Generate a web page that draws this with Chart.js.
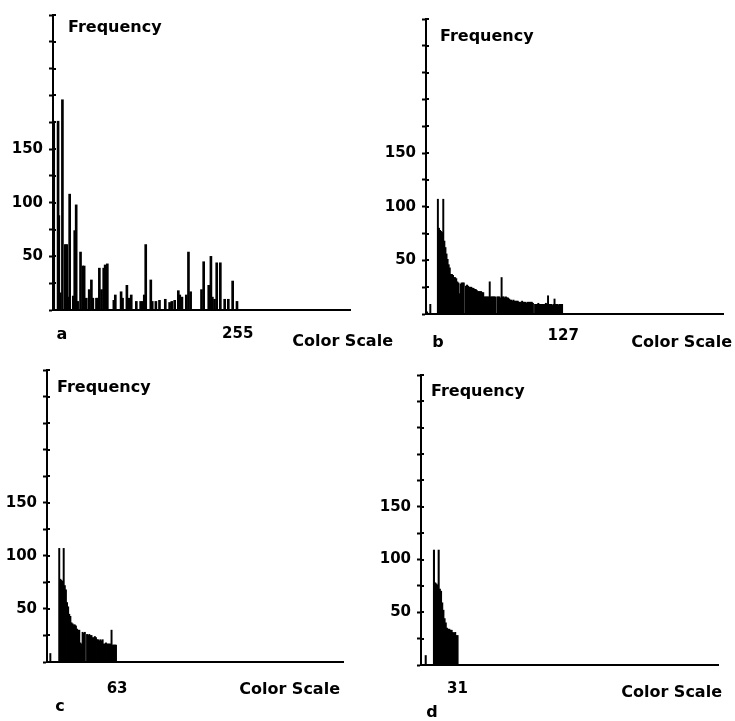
<!DOCTYPE html>
<html>
<head>
<meta charset="utf-8">
<script src="https://cdn.jsdelivr.net/npm/chart.js@4"></script>
<style>
  body { margin: 0; background: #fff; }
  #wrap { position: relative; width: 735px; height: 721px; }
  #wrap canvas { position: absolute; left: 0; top: 0; }
</style>
</head>
<body>
<div id="wrap">
  <canvas id="chartA" width="735" height="721"></canvas>
  <canvas id="chartB" width="735" height="721"></canvas>
  <canvas id="chartC" width="735" height="721"></canvas>
  <canvas id="chartD" width="735" height="721"></canvas>
</div>
<script>
// text
const yTitle = 'Frequency';
const xTitle = 'Color Scale';
const panelLetters = ['a', 'b', 'c', 'd'];
const yLabelled = [50, 100, 150];
const xEndLabels = [255, 127, 63, 31];

// panel a: 256 levels, only the non-empty bins (bin, count)
const binsA = [1, 7, 8, 10, 13, 17, 19, 21, 23, 28, 30, 32, 34, 38, 41, 43, 46, 50, 53, 55,
  60, 62, 64, 67, 70, 72, 75, 84, 86, 94, 96, 102, 105, 108, 115, 121, 124, 126, 128, 135,
  137, 142, 147, 155, 161, 164, 168, 173, 175, 178, 184, 187, 190, 205, 208, 215, 218, 220, 223, 226,
  231, 237, 242, 248, 254];
const countsA = [176, 176, 88, 16, 196, 61, 61, 12, 108, 13, 74, 98, 8, 54, 41, 41, 11, 19, 28, 11,
  11, 11, 39, 19, 39, 42, 43, 9, 14, 17, 11, 23, 11, 14, 8, 8, 8, 14, 61, 28,
  8, 8, 9, 10, 7, 8, 9, 18, 14, 12, 14, 54, 17, 19, 45, 23, 50, 12, 10, 44,
  44, 10, 10, 27, 8];

// panel b: 128 levels, bins 0..127
const countsB = [0, 2, 0, 0, 9, 0, 0, 0, 0, 0, 0,
  107, 80, 78, 77, 76, 107,
  68, 62, 56, 51, 46, 43, 37, 37, 36, 34, 34, 33, 30, 29, 19, 28, 29, 29, 29,
  0,
  26, 27, 26, 25, 25, 25, 24, 24, 23, 23, 22, 21, 21, 21, 21, 20, 20,
  16, 16, 16, 16, 16, 30, 16, 16, 16, 16, 16,
  0,
  16, 16, 16, 15, 34, 16, 16, 15, 16, 15, 15, 14,
  13, 13, 12, 13, 12, 12, 12, 12, 11,
  11, 11, 12, 11, 11, 11, 10, 11, 11, 11, 11, 11, 10,
  0,
  9, 9, 9, 10, 9, 9, 9, 9, 9, 9, 10, 9, 17, 9, 9, 9, 8, 9, 14,
  9, 9, 9, 8, 9, 9, 9, 0];

// panel c: 64 levels, bins 0..63
const countsC = [0, 0, 0, 8, 0, 0, 0, 0, 0, 0, 0,
  107, 78, 77, 76, 107, 72, 68, 56, 52, 45, 43,
  37, 36, 35, 35, 34, 31, 30, 30, 18, 17, 28, 27, 28,
  0,
  26, 25, 26, 25, 25, 23, 23, 24, 23, 21, 21, 20, 21, 20, 21,
  17, 17, 18, 17, 17, 17, 17, 30, 16, 16, 16, 16, 0];

// panel d: 32 levels, bins 0..31
const countsD = [0, 0, 0, 0, 9, 0, 0, 0, 0, 0, 0,
  109, 78, 77, 76, 109, 72, 70, 59, 52, 44, 40,
  35, 34, 34, 33, 33, 31, 30, 31, 28, 28];

// titles, panel letter, and the inner half of the y tick crosses
const panelText = {
  id: 'panelText',
  afterDraw(chart, args, opts) {
    const { ctx, chartArea } = chart;
    const y = chart.scales.y;
    ctx.save();
    ctx.strokeStyle = '#000';
    ctx.lineWidth = 2;
    y.ticks.forEach(t => {
      const py = Math.round(y.getPixelForValue(t.value));
      ctx.beginPath();
      ctx.moveTo(chartArea.left, py);
      ctx.lineTo(chartArea.left + 3, py);
      ctx.stroke();
    });
    ctx.fillStyle = '#000';
    ctx.font = 'bold 16px "DejaVu Sans", sans-serif';
    ctx.textBaseline = 'middle';
    ctx.textAlign = 'left';
    ctx.fillText(yTitle, chartArea.left + opts.freq[0], chartArea.top + opts.freq[1]);
    ctx.textAlign = 'right';
    ctx.fillText(xTitle, chartArea.right + opts.scale[0], chartArea.bottom + opts.scale[1]);
    ctx.textAlign = 'center';
    ctx.fillText(opts.letter, chartArea.left + opts.tag[0], chartArea.bottom + opts.tag[1]);
    ctx.restore();
  }
};

Chart.defaults.font.family = '"DejaVu Sans", sans-serif';
Chart.defaults.font.weight = 'bold';
Chart.defaults.font.size = 15;
Chart.defaults.color = '#000';

const Y_W = 45;
const X_H = 45;

function drawPanel(id, points, p) {
  new Chart(document.getElementById(id), {
    type: 'bar',
    data: {
      datasets: [{
        data: points,
        backgroundColor: '#000',
        borderWidth: 0,
        barThickness: p.bar
      }]
    },
    options: {
      responsive: false,
      animation: false,
      events: [],
      devicePixelRatio: 1,
      layout: {
        padding: {
          left: p.area.left - Y_W,
          top: p.area.top,
          right: 735 - p.area.right,
          bottom: 721 - p.area.bottom - X_H
        }
      },
      plugins: {
        legend: { display: false },
        tooltip: { enabled: false },
        panelText: { letter: p.letter, freq: p.freq, scale: p.scale, tag: p.tag }
      },
      scales: {
        x: {
          type: 'linear',
          min: 0,
          max: p.xMax,
          offset: false,
          afterFit: s => { s.height = X_H; },
          afterBuildTicks: s => { s.ticks = [{ value: p.xLabel }]; },
          grid: { display: false, offset: false },
          border: { display: true, color: '#000', width: 2 },
          ticks: { padding: p.tickPad, maxRotation: 0, autoSkip: false }
        },
        y: {
          min: 0,
          max: 275,
          afterFit: s => { s.width = Y_W; },
          grid: { drawOnChartArea: false, drawTicks: true, tickLength: 4, tickColor: '#000', tickWidth: 2 },
          border: { display: true, color: '#000', width: 2 },
          ticks: {
            stepSize: 25,
            padding: 6,
            autoSkip: false,
            callback: v => yLabelled.includes(v) ? v : ''
          }
        }
      }
    },
    plugins: [panelText]
  });
}

const pointsA = binsA.map((b, i) => ({ x: b, y: countsA[i] }));
const toPoints = arr => arr.map((v, i) => ({ x: i, y: v }));

drawPanel('chartA', pointsA, {
  area: { left: 53, top: 15, right: 350, bottom: 310 },
  xMax: 410, xLabel: xEndLabels[0], tickPad: 7, bar: 2,
  letter: panelLetters[0], freq: [15, 13], scale: [43, 32], tag: [9, 25]
});
drawPanel('chartB', toPoints(countsB), {
  area: { left: 426, top: 19, right: 723, bottom: 314 },
  xMax: 275, xLabel: xEndLabels[1], tickPad: 5, bar: 1.3,
  letter: panelLetters[1], freq: [14, 18], scale: [9, 29], tag: [12, 29]
});
drawPanel('chartC', toPoints(countsC), {
  area: { left: 47, top: 370, right: 343, bottom: 662 },
  xMax: 266, xLabel: xEndLabels[2], tickPad: 10, bar: 1.3,
  letter: panelLetters[2], freq: [10, 18], scale: [-3, 28], tag: [13, 45]
});
drawPanel('chartD', toPoints(countsD), {
  area: { left: 421, top: 375, right: 718, bottom: 665 },
  xMax: 252, xLabel: xEndLabels[3], tickPad: 7, bar: 1.4,
  letter: panelLetters[3], freq: [10, 17], scale: [4, 28], tag: [11, 48]
});
</script>
</body>
</html>
